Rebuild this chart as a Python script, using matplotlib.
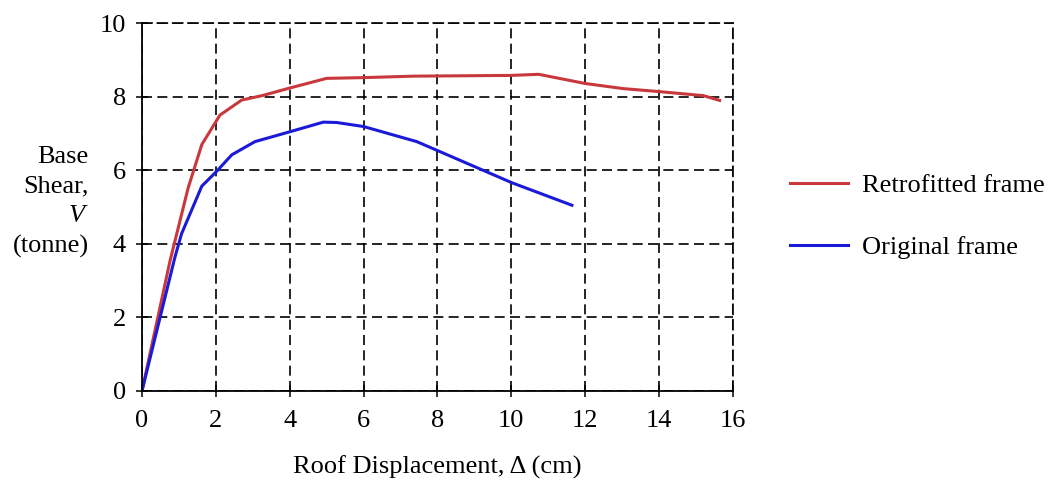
import numpy as np
import matplotlib.pyplot as plt

# Pushover curves
retro_x = [0.0, 0.76, 1.25, 1.62, 2.11, 2.70, 3.29, 4.01, 5.0, 6.0, 7.35, 10.0, 10.74, 12.0, 13.04, 14.0, 15.2, 15.64]
retro_v = [0.0, 3.54, 5.52, 6.70, 7.50, 7.91, 8.04, 8.24, 8.50, 8.52, 8.56, 8.58, 8.61, 8.36, 8.22, 8.14, 8.03, 7.90]

orig_x = [0.0, 0.89, 1.07, 1.62, 2.02, 2.43, 3.06, 4.01, 4.91, 5.27, 6.0, 7.44, 10.02, 11.64]
orig_v = [0.0, 3.63, 4.27, 5.57, 5.97, 6.42, 6.78, 7.05, 7.31, 7.30, 7.19, 6.78, 5.66, 5.05]

xticks = [0, 2, 4, 6, 8, 10, 12, 14, 16]
yticks = [0, 2, 4, 6, 8, 10]

plt.rc('font', family='Liberation Serif')
plt.rc('mathtext', fontset='custom', it='Liberation Serif:italic', rm='Liberation Serif')
plt.rc('font', size=19)

fig = plt.figure(figsize=(10.54, 4.83), dpi=100)
ax = fig.add_axes([0.1347, 0.1905, 0.5607, 0.7615])

ax.plot(retro_x, retro_v, color='#c8383c', linewidth=2.2, label='Retrofitted frame')
ax.plot(orig_x, orig_v, color='#1a1ad8', linewidth=2.2, label='Original frame')

ax.set_xlim(0, 16)
ax.set_ylim(0, 10)
ax.set_xticks(xticks)
ax.set_yticks(yticks)
dash = (0, (6, 3.2))
ax.grid(True, color='black', linestyle=dash, linewidth=1.2)
ax.set_axisbelow(True)

for s in ['top', 'right']:
    ax.spines[s].set_linestyle(dash)
    ax.spines[s].set_linewidth(1.2)
for s in ['left', 'bottom']:
    ax.spines[s].set_linewidth(1.3)

ax.tick_params(direction='inout', length=9, width=1.1)
ax.tick_params(axis='x', pad=9)
ax.tick_params(axis='y', pad=7)

ax.set_xlabel('Roof Displacement, Δ (cm)', labelpad=17)
fig.text(0.084, 0.582, 'Base\nShear,\n$V$\n(tonne)', ha='right', va='center', linespacing=1.45)

fig.legend(loc='upper left', bbox_to_anchor=(0.7267, 0.689), frameon=False,
           handlelength=2.2, handletextpad=0.53, labelspacing=1.45)

plt.savefig('out.png', dpi=100)
